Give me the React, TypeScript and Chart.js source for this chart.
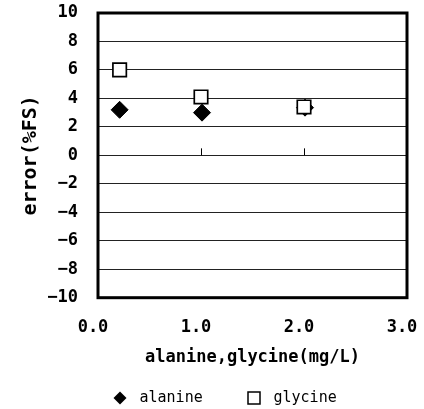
import React, { useEffect, useRef } from "react";
import { Chart, registerables } from "chart.js";

Chart.register(...registerables);

// ---- data ----
const seriesNames = ["alanine", "glycine"];
const alanineX = [0.21, 1.01, 2.01];
const alanineY = [3.2, 3.0, 3.35];
const glycineX = [0.21, 1.0, 2.0];
const glycineY = [6.0, 4.1, 3.4];
const xTickLabels = ["0.0", "1.0", "2.0", "3.0"];
const xTickValues = [0, 1, 2, 3];
const yTitle = "error(%FS)";
const xTitle = "alanine,glycine(mg/L)";

const MONO = "'DejaVu Sans Mono', monospace";

function makeIcon(kind: "diamond" | "square"): HTMLCanvasElement {
  const c = document.createElement("canvas");
  const s = 14;
  c.width = s;
  c.height = s;
  const g = c.getContext("2d")!;
  g.strokeStyle = "#000";
  if (kind === "diamond") {
    g.fillStyle = "#000";
    g.beginPath();
    g.moveTo(s / 2, 0.5);
    g.lineTo(s - 0.5, s / 2);
    g.lineTo(s / 2, s - 0.5);
    g.lineTo(0.5, s / 2);
    g.closePath();
    g.fill();
  } else {
    g.fillStyle = "#fff";
    g.lineWidth = 1.5;
    g.fillRect(1, 1, s - 2, s - 2);
    g.strokeRect(1, 1, s - 2, s - 2);
  }
  return c;
}

const framePlugin = {
  id: "frame",
  afterDraw(chart: any) {
    const { ctx, chartArea: a, scales } = chart;
    ctx.save();
    // small ticks on the zero line
    const xs = scales.x;
    const y0 = scales.y.getPixelForValue(0);
    ctx.strokeStyle = "#000";
    ctx.lineWidth = 1;
    xTickValues.forEach((v) => {
      if (v > xs.min && v < xs.max) {
        const px = Math.round(xs.getPixelForValue(v)) + 0.5;
        ctx.beginPath();
        ctx.moveTo(px, y0);
        ctx.lineTo(px, y0 - 7);
        ctx.stroke();
      }
    });
    ctx.lineWidth = 3;
    ctx.strokeRect(a.left, a.top, a.right - a.left, a.bottom - a.top);
    ctx.restore();
  },
};

export default function App() {
  const ref = useRef<HTMLCanvasElement | null>(null);

  useEffect(() => {
    if (!ref.current) return;
    const icons = [makeIcon("diamond"), makeIcon("square")];
    const chart = new Chart(ref.current, {
      type: "scatter",
      data: {
        datasets: [
          {
            label: seriesNames[0],
            data: alanineX.map((x, i) => ({ x, y: alanineY[i] })),
            pointStyle: "rectRot",
            pointRadius: 8.5,
            backgroundColor: "#000",
            borderColor: "#000",
            borderWidth: 1,
            order: 1,
          },
          {
            label: seriesNames[1],
            data: glycineX.map((x, i) => ({ x, y: glycineY[i] })),
            pointStyle: "rect",
            pointRadius: 9.5,
            backgroundColor: "#fff",
            borderColor: "#000",
            borderWidth: 1.7,
            order: 0,
          },
        ],
      },
      options: {
        animation: false,
        responsive: false,
        events: [],
        layout: { padding: { left: 37.7, right: 17, top: 13, bottom: -6.5 } },
        scales: {
          x: {
            type: "linear",
            min: 0,
            max: 3,
            afterFit: (s: any) => {
              s.height = 53.5;
            },
            afterBuildTicks: (s: any) => {
              s.ticks = xTickValues.map((v) => ({ value: v }));
            },
            ticks: {
              callback: (_v: any, i: number) => xTickLabels[i],
              font: { family: MONO, size: 17, weight: "bold" },
              color: "#000",
              padding: 0,
              labelOffset: -5,
              maxRotation: 0,
            },
            grid: {
              drawOnChartArea: false,
              drawTicks: true,
              tickLength: 19.5,
              tickColor: "rgba(0,0,0,0)",
            },
            border: { display: false },
            title: {
              display: true,
              text: xTitle,
              font: { family: MONO, size: 17, weight: "bold" },
              color: "#000",
              padding: { top: 0, bottom: -16.7 },
            },
          },
          y: {
            type: "linear",
            min: -10,
            max: 10,
            afterFit: (s: any) => {
              s.width = 60.3;
            },
            ticks: {
              stepSize: 2,
              callback: (v: any) => String(v).replace("-", "\u2212"),
              font: { family: MONO, size: 17, weight: "bold" },
              color: "#000",
              padding: 0,
            },
            grid: {
              color: "#222",
              lineWidth: 1,
              drawTicks: true,
              tickLength: 20,
              tickColor: "rgba(0,0,0,0)",
            },
            border: { display: false },
            title: {
              display: true,
              text: yTitle,
              font: { family: MONO, size: 20, weight: "bold" },
              color: "#000",
              padding: { top: -18.7, bottom: 0 },
            },
          },
        },
        plugins: {
          tooltip: { enabled: false },
          legend: {
            position: "bottom",
            labels: {
              usePointStyle: true,
              pointStyleWidth: 24,
              padding: 39.3,
              color: "#000",
              font: { family: MONO, size: 15 },
              sort: (a: any, b: any) => a.datasetIndex - b.datasetIndex,
              generateLabels: (c: any) => {
                const base = (Chart.defaults.plugins.legend.labels as any).generateLabels(c);
                return base.map((it: any) => ({ ...it, pointStyle: icons[it.datasetIndex] }));
              },
            },
          },
        },
      },
      plugins: [framePlugin],
    } as any);
    return () => chart.destroy();
  }, []);

  return (
    <div style={{ position: "fixed", left: 0, top: 0, width: 424, height: 409, background: "#fff" }}>
      <canvas ref={ref} width={424} height={409} style={{ display: "block", width: 424, height: 409 }} />
    </div>
  );
}
